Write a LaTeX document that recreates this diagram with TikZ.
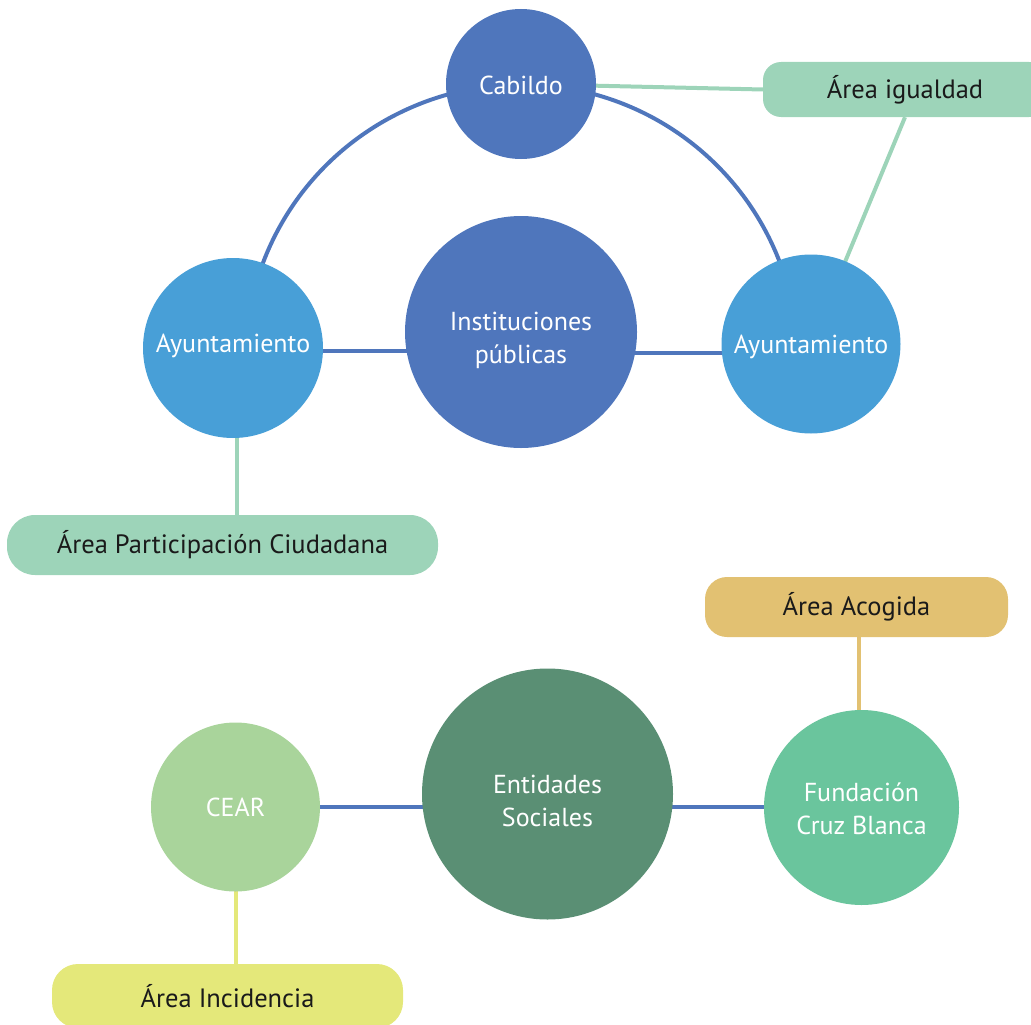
\documentclass[tikz,border=0pt]{standalone}
\usepackage{fontspec}
\setmainfont{PT Sans}
\usetikzlibrary{backgrounds}
\definecolor{cblue}{HTML}{4F76BC}
\definecolor{cayu}{HTML}{489FD7}
\definecolor{cmint}{HTML}{9DD4B9}
\definecolor{cgold}{HTML}{E2C172}
\definecolor{cent}{HTML}{5A8F74}
\definecolor{ccear}{HTML}{A9D49B}
\definecolor{cfund}{HTML}{6AC59D}
\definecolor{cinc}{HTML}{E4E87A}
\definecolor{ctext}{HTML}{1A1A1A}
\tikzset{
  bubble/.style={circle, inner sep=0pt},
  btext/.style={inner sep=0pt, text=white, align=center,
    font=\fontsize{26}{33}\selectfont},
  tag/.style={rectangle, inner sep=0pt, text=ctext, align=center,
    font=\fontsize{26.5}{33}\selectfont},
  link/.style={line width=4pt},
}
\begin{document}
\begin{tikzpicture}[x=1pt,y=-1pt]
\useasboundingbox (0,0) rectangle (1031,1025);
% top group
\node[bubble, fill=cblue, minimum size=150,
  label={[btext,yshift=-1]center:Cabildo}] (cab) at (521,84) {};
\node[bubble, fill=cblue, minimum size=232,
  label={[btext,yshift=-8]center:{Instituciones\\públicas}}] (inst) at (521,332) {};
\node[bubble, fill=cayu, minimum size=180,
  label={[btext,yshift=2]center:Ayuntamiento}] (ayl) at (233,348) {};
\node[bubble, fill=cayu, minimum size=179,
  label={[btext,yshift=-3]center:Ayuntamiento}] (ayr) at (811,344) {};
\node[tag, fill=cmint, rounded corners=18, minimum width=284, minimum height=55] (igu) at (905,89.5) {Área igualdad};
\node[tag, fill=cmint, rounded corners=28, minimum width=431, minimum height=60] (part) at (222.5,545) {Área Participación Ciudadana};
% bottom group
\node[bubble, fill=cent, minimum size=251,
  label={[btext,yshift=-7]center:{Entidades\\Sociales}}] (ent) at (547.5,794) {};
\node[bubble, fill=ccear, minimum size=169,
  label={[btext]center:CEAR}] (cear) at (235.5,807) {};
\node[bubble, fill=cfund, minimum size=195,
  label={[btext,yshift=-1]center:{Fundación\\Cruz Blanca}}] (fund) at (861.5,807.5) {};
\node[tag, fill=cgold, rounded corners=22, minimum width=303, minimum height=60] (acog) at (856.5,607) {Área Acogida};
\node[tag, fill=cinc, rounded corners=26, minimum width=351, minimum height=64] (inc) at (227.5,996) {Área Incidencia};
\coordinate (arcc) at (521.5,361);
\begin{pgfonlayer}{background}
  \draw[link, cblue] ([shift={(-162:276.5)}]arcc) arc[start angle=-162, end angle=-18, radius=276.5];
  \draw[link, cblue] (ayl.center |- 0,351) -- (inst.center |- 0,351);
  \draw[link, cblue] (inst.center |- 0,353) -- (ayr.center |- 0,353);
  \draw[link, cmint] (cab.center) -- (igu.west);
  \draw[link, cmint] (igu.south) -- (ayr.center);
  \draw[link, cmint] ([xshift=4]ayl.center) -- ([xshift=4]ayl.center |- part.north);
  \draw[link, cblue] (cear.center |- 0,806.5) -- (ent.center |- 0,806.5);
  \draw[link, cblue] (ent.center |- 0,806.5) -- (fund.center |- 0,806.5);
  \draw[link, cgold] ([xshift=-2.5]fund.center) -- ([xshift=-2.5]fund.center |- acog.south);
  \draw[link, cinc] ([xshift=0.5]cear.center) -- ([xshift=0.5]cear.center |- inc.north);
\end{pgfonlayer}
\end{tikzpicture}
\end{document}
